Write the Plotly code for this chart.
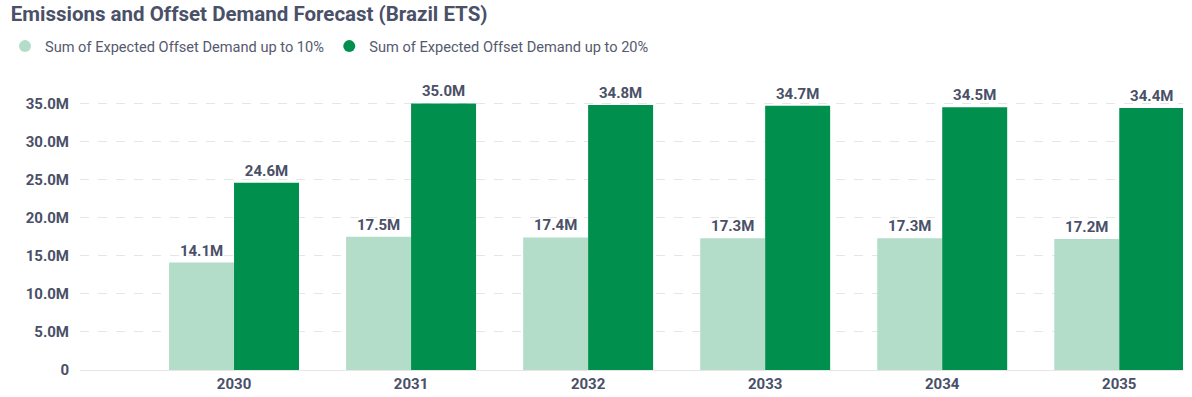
import plotly.graph_objects as go

years = [2030, 2031, 2032, 2033, 2034, 2035]
demand_10 = [14.1e6, 17.5e6, 17.4e6, 17.3e6, 17.3e6, 17.2e6]
demand_20 = [24.6e6, 35.0e6, 34.8e6, 34.7e6, 34.5e6, 34.4e6]
series_names = ["Sum of Expected Offset Demand up to 10%", "Sum of Expected Offset Demand up to 20%"]
colors = ["#b3ddc8", "#008f4c"]
tick_vals = [0, 5e6, 10e6, 15e6, 20e6, 25e6, 30e6, 35e6]
tick_text = ["0", "5.0M", "10.0M", "15.0M", "20.0M", "25.0M", "30.0M", "35.0M"]

def fmt(v):
    return f"{v/1e6:.1f}M"

text_color = "#4a5068"
fig = go.Figure()
for name, vals, col in zip(series_names, [demand_10, demand_20], colors):
    fig.add_trace(go.Bar(
        x=years, y=vals, name=name, marker_color=col, marker_line_width=0,
        text=[fmt(v) for v in vals], textposition="outside",
        textfont=dict(family="Roboto", size=15, color=text_color, weight="bold"),
        cliponaxis=False, showlegend=False, hoverinfo="x+y",
    ))
    fig.add_trace(go.Scatter(
        x=[None], y=[None], mode="markers", name=name,
        marker=dict(symbol="circle", size=15, color=col),
    ))

fig.update_layout(
    width=1192, height=397,
    margin=dict(l=80, r=9, t=92, b=27, autoexpand=False),
    paper_bgcolor="white", plot_bgcolor="white",
    barmode="group", bargap=0.266, bargroupgap=0,
    font=dict(family="Roboto", color=text_color),
    title=dict(text="<b>Emissions and Offset Demand Forecast (Brazil ETS)</b>",
               x=0.009, xref="container", y=1 - 14 / 397, yref="container", yanchor="middle",
               xanchor="left", font=dict(size=20.5, color=text_color)),
    legend=dict(orientation="h", x=-0.068, xanchor="left", y=1.165, yanchor="middle",
                yref="paper",
                font=dict(size=14.6, color="#555a6e"), itemsizing="constant",
                tracegroupgap=0, itemwidth=30),
    xaxis=dict(range=[2029.13, 2035.36], tickvals=years, ticktext=[str(y) for y in years],
               showgrid=False, zeroline=False, showline=True, linecolor="#e6e6e6", linewidth=1,
               tickfont=dict(size=15, color=text_color, weight="bold"), ticks="",
               automargin=False),
    yaxis=dict(range=[0, 36.5e6], tickvals=tick_vals, ticktext=tick_text,
               showgrid=True, gridcolor="#e6e6e6", griddash="dash", gridwidth=1,
               zeroline=False, showline=False, automargin=False,
               tickfont=dict(size=15, color=text_color, weight="bold"), ticks="",
               ticklabelstandoff=10),
)
fig.write_html("out.html", config={"displayModeBar": False},
               post_script="document.body.style.margin='0';")
